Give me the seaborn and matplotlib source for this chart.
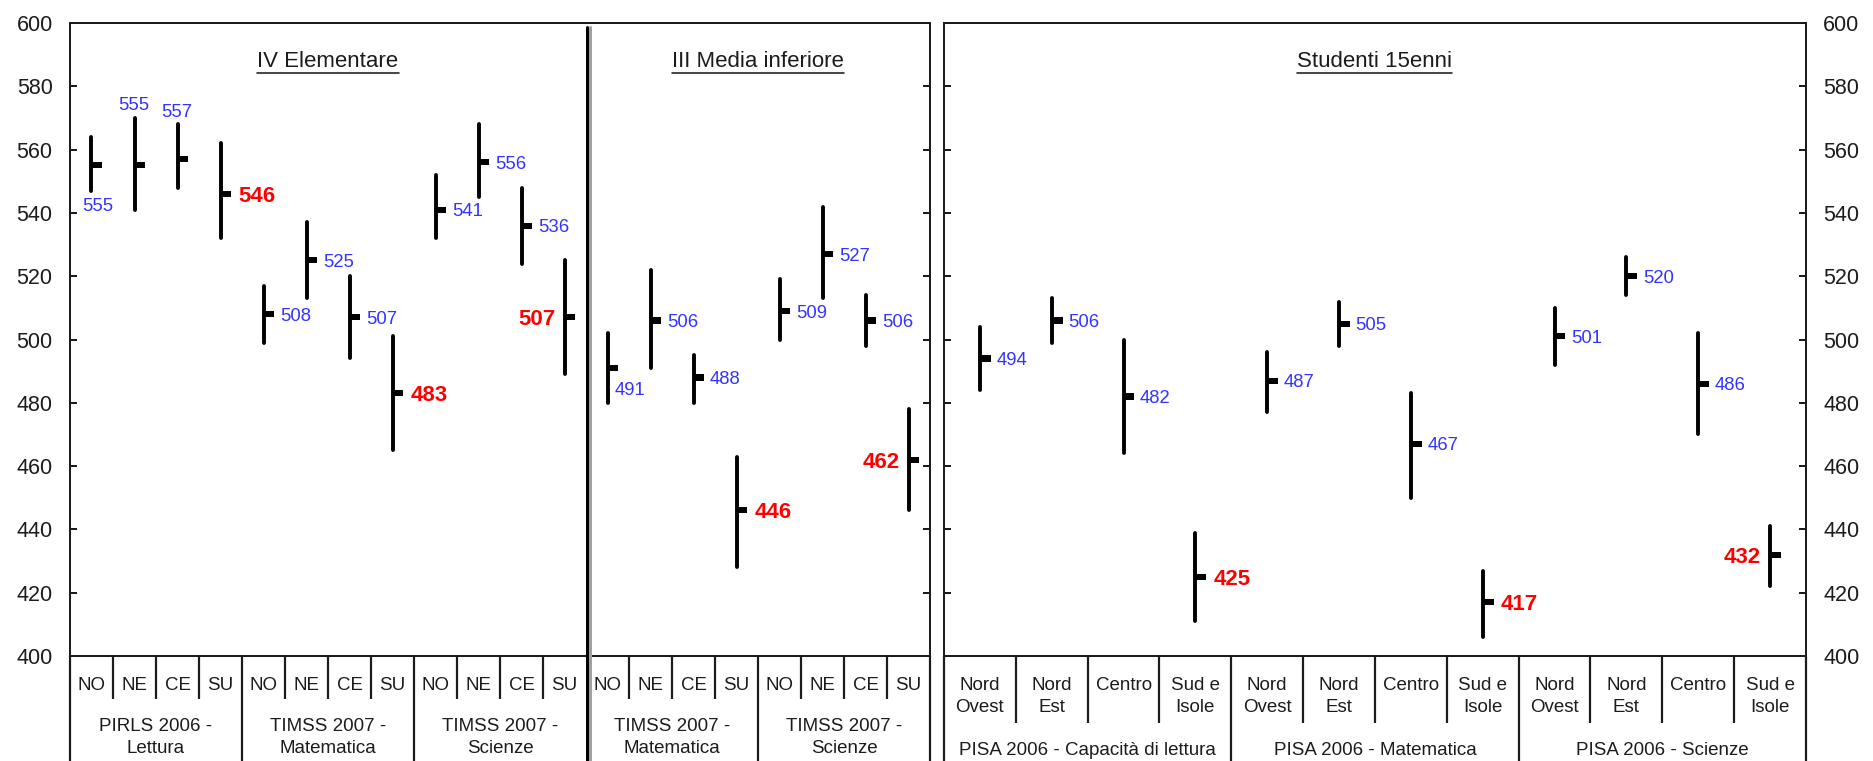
import matplotlib
matplotlib.use("Agg")
import numpy as np
import matplotlib.pyplot as plt
import seaborn as sns
from matplotlib.path import Path
from matplotlib.markers import MarkerStyle
from matplotlib.lines import Line2D
from matplotlib import transforms

# ---------------------------------------------------------------------------
# Punteggi medi per macro-area con intervallo di confidenza (min / max)
# ---------------------------------------------------------------------------
school_regions = ["NO", "NE", "CE", "SU"]
school_surveys = ["PIRLS 2006 -\nLettura", "TIMSS 2007 -\nMatematica",
                  "TIMSS 2007 -\nScienze", "TIMSS 2007 -\nMatematica",
                  "TIMSS 2007 -\nScienze"]
school_grades = ["IV Elementare", "III Media inferiore"]
school_mean = [555, 555, 557, 546, 508, 525, 507, 483, 541, 556, 536, 507,
               491, 506, 488, 446, 509, 527, 506, 462]
school_low = [547, 541, 548, 532, 499, 513, 494, 465, 532, 545, 524, 489,
              480, 491, 480, 428, 500, 513, 498, 446]
school_high = [564, 570, 568, 562, 517, 537, 520, 501, 552, 568, 548, 525,
               502, 522, 495, 463, 519, 542, 514, 478]

pisa_regions = ["Nord\nOvest", "Nord\nEst", "Centro", "Sud e\nIsole"]
pisa_surveys = ["PISA 2006 - Capacità di lettura", "PISA 2006 - Matematica",
                "PISA 2006 - Scienze"]
pisa_group = "Studenti 15enni"
pisa_mean = [494, 506, 482, 425, 487, 505, 467, 417, 501, 520, 486, 432]
pisa_low = [484, 499, 464, 411, 477, 498, 450, 406, 492, 514, 470, 422]
pisa_high = [504, 513, 500, 439, 496, 512, 483, 427, 510, 526, 502, 441]

score_ticks = list(range(400, 601, 20))

# where each value label sits relative to its bar
school_label_side = ["below", "above", "above", "right",
                     "right", "right", "right", "right",
                     "right", "right", "right", "left",
                     "right_low", "right", "right", "right",
                     "right", "right", "right", "left"]
pisa_label_side = ["right"] * 11 + ["left"]

# ---------------------------------------------------------------------------
sns.set_theme(style="white")
plt.rcParams["font.family"] = ["Liberation Sans", "DejaVu Sans"]

INK = "#1c1c1c"
BLUE = "#3333ff"
RED = "#ff0000"
W, H = 1874, 761
DPI = 100
PT = 72.0 / DPI  # points per pixel

fig = plt.figure(figsize=(W / DPI, H / DPI), dpi=DPI)
fig.patch.set_facecolor("white")


def px_rect(x0, x1, ytop, ybot):
    return [x0 / W, 1 - ybot / H, (x1 - x0) / W, (ybot - ytop) / H]


AX_TOP, AX_BOT = 23, 656
ax_school = fig.add_axes(px_rect(70, 930, AX_TOP, AX_BOT))
ax_pisa = fig.add_axes(px_rect(944, 1806, AX_TOP, AX_BOT))


def yfrac(py):
    """Pixel row (from top) -> axes-fraction y."""
    return (AX_BOT - py) / (AX_BOT - AX_TOP)


# horizontal tick for the mean: a short bar starting at the range line
mean_tick = MarkerStyle(Path([(0, -0.28), (1, -0.28), (1, 0.28), (0, 0.28), (0, -0.28)],
                             [Path.MOVETO, Path.LINETO, Path.LINETO,
                              Path.LINETO, Path.CLOSEPOLY]))


def draw_ranges(ax, means, lows, highs, sides):
    pos = np.arange(len(means))
    ax.vlines(pos, lows, highs, color="black", lw=3.9 * PT, zorder=3,
              capstyle="round")
    sns.scatterplot(x=pos, y=means, ax=ax, marker=mean_tick, s=(15.6) ** 2,
                    color="black", edgecolor="none", linewidth=0,
                    legend=False, zorder=4)
    for i, (m, lo, hi, side) in enumerate(zip(means, lows, highs, sides)):
        weak = (i % 4) == 3
        style = dict(color=RED, fontsize=16, fontweight="bold") if weak else \
            dict(color=BLUE, fontsize=13.3)
        if side == "right":
            dx = (18 if weak else 16.5) * PT
            ax.annotate(str(m), (i, m), xytext=(dx, 0), textcoords="offset points",
                        ha="left", va="center_baseline", **style)
        elif side == "left":
            ax.annotate(str(m), (i, m), xytext=(-9 * PT, 0), textcoords="offset points",
                        ha="right", va="center_baseline", **style)
        elif side == "below":
            ax.annotate(str(m), (i, lo), xytext=(6 * PT, -14 * PT),
                        textcoords="offset points", ha="center",
                        va="center_baseline", **style)
        elif side == "above":
            ax.annotate(str(m), (i, hi), xytext=(-0.5 * PT, 14 * PT),
                        textcoords="offset points", ha="center",
                        va="center_baseline", **style)
        elif side == "right_low":
            ax.annotate(str(m), (i, m), xytext=(7.5 * PT, -21 * PT),
                        textcoords="offset points", ha="left",
                        va="center_baseline", **style)


def style_axes(ax, n, label_side):
    ax.set_xlim(-0.5, n - 0.5)
    ax.set_ylim(400, 600)
    ax.set_yticks(score_ticks)
    ax.set_xticks([])
    ax.set_xlabel("")
    ax.set_ylabel("")
    ax.grid(False)
    for sp in ax.spines.values():
        sp.set_visible(True)
        sp.set_color(INK)
        sp.set_linewidth(2.0 * PT)
    ax.tick_params(axis="y", which="both", direction="in", length=7.0 * PT,
                   width=2.0 * PT, color=INK, left=True, right=True,
                   labelleft=(label_side == "left"),
                   labelright=(label_side == "right"),
                   labelsize=15.5, labelcolor=INK, pad=12.5)


LINE_KW = dict(color=INK, lw=2.2 * PT, clip_on=False, solid_capstyle="butt")


def draw_table(ax, regions, surveys, sep_bottom, sub_top, grp_top, sub_ls, skip=()):
    k = len(regions)
    n = k * len(surveys)
    trans = ax.get_xaxis_transform()
    for b in np.arange(-0.5, n, 1.0):
        if any(abs(b - s) < 1e-9 for s in skip):
            continue
        is_group = abs(((b + 0.5) % k)) < 1e-9
        y0 = -0.25 if is_group else yfrac(sep_bottom)
        ax.add_line(Line2D([b, b], [0, y0], transform=trans, **LINE_KW))
    for i in range(n):
        ax.text(i, yfrac(sub_top), regions[i % k], transform=trans, ha="center",
                va="top", fontsize=13.5, color=INK, linespacing=sub_ls, clip_on=False)
    for g, name in enumerate(surveys):
        cx = g * k + (k - 1) / 2
        ax.text(cx, yfrac(grp_top), name, transform=trans, ha="center", va="top",
                fontsize=13.5, color=INK, linespacing=1.4, clip_on=False)


# --- left block: primary and lower-secondary surveys -----------------------
draw_ranges(ax_school, school_mean, school_low, school_high, school_label_side)
style_axes(ax_school, len(school_mean), "left")
draw_table(ax_school, school_regions, school_surveys, sep_bottom=699,
           sub_top=677, grp_top=718, sub_ls=1.4, skip=(11.5,))

# double divider between the two school grades
xtr = ax_school.get_xaxis_transform()
ax_school.add_line(Line2D([11.5, 11.5], [yfrac(27), -0.25],
                          transform=transforms.offset_copy(xtr, fig, x=0.7, units="dots"),
                          color="black", lw=3.0 * PT, clip_on=False, zorder=5))
ax_school.add_line(Line2D([11.5, 11.5], [yfrac(27), -0.25],
                          transform=transforms.offset_copy(xtr, fig, x=3.9, units="dots"),
                          color="#a0a0a0", lw=3.0 * PT, clip_on=False, zorder=5))

# --- right block: PISA ------------------------------------------------------
draw_ranges(ax_pisa, pisa_mean, pisa_low, pisa_high, pisa_label_side)
style_axes(ax_pisa, len(pisa_mean), "right")
draw_table(ax_pisa, pisa_regions, pisa_surveys, sep_bottom=723,
           sub_top=677, grp_top=742, sub_ls=1.4)

# --- block titles (underlined) ---------------------------------------------
titles = []
for ax, x, label in [(ax_school, 5.5, school_grades[0]),
                     (ax_school, 15.5, school_grades[1]),
                     (ax_pisa, 5.5, pisa_group)]:
    t = ax.text(x, yfrac(67), label, transform=ax.get_xaxis_transform(),
                ha="center", va="baseline", fontsize=16, color=INK)
    titles.append(t)

fig.canvas.draw()
renderer = fig.canvas.get_renderer()
for t in titles:
    bb = t.get_window_extent(renderer)
    yu = (H - 73) / H
    fig.add_artist(Line2D([bb.x0 / W, bb.x1 / W], [yu, yu], transform=fig.transFigure,
                          color=INK, lw=1.6 * PT))

fig.savefig("out.png", dpi=DPI, facecolor="white")
